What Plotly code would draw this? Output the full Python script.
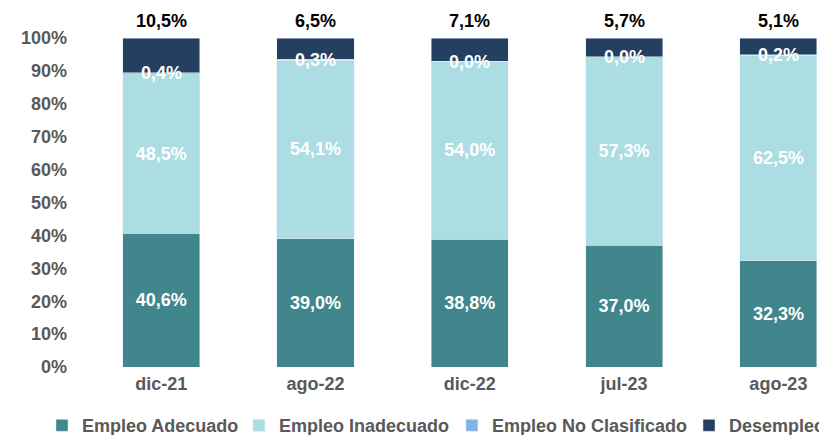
import plotly.graph_objects as go

categories = ["dic-21", "ago-22", "dic-22", "jul-23", "ago-23"]
adecuado = [40.6, 39.0, 38.8, 37.0, 32.3]
inadecuado = [48.5, 54.1, 54.0, 57.3, 62.5]
no_clasificado = [0.4, 0.3, 0.0, 0.0, 0.2]
desempleo = [10.5, 6.5, 7.1, 5.7, 5.1]
y_ticks = [0, 10, 20, 30, 40, 50, 60, 70, 80, 90, 100]

def fmt(v):
    return f"{v:.1f}%".replace(".", ",")

FONT = "Liberation Sans"
GRAY = "#595959"
LABEL_FONT = dict(color="white", size=18, family=FONT, weight="bold")

fig = go.Figure()
fig.add_trace(go.Bar(
    x=categories, y=adecuado, name="Empleo Adecuado", marker_color="#40868C",
    text=[fmt(v) for v in adecuado], textposition="inside", insidetextanchor="middle",
    textfont=LABEL_FONT, legend="legend",
))
fig.add_trace(go.Bar(
    x=categories, y=inadecuado, name="Empleo Inadecuado", marker_color="#ABDDE2",
    text=[fmt(v) for v in inadecuado], textposition="inside", insidetextanchor="middle",
    textfont=LABEL_FONT, legend="legend2",
))
fig.add_trace(go.Bar(
    x=categories, y=no_clasificado, name="Empleo No Clasificado", marker_color="#7DB3E8",
    textposition="none", legend="legend3",
))
fig.add_trace(go.Bar(
    x=categories, y=desempleo, name="Desempleo", marker_color="#243F60",
    textposition="none", legend="legend4",
))

for c, a, i, n, d in zip(categories, adecuado, inadecuado, no_clasificado, desempleo):
    fig.add_annotation(x=c, y=a + i + n / 2, text=fmt(n), showarrow=False, font=LABEL_FONT)
    fig.add_annotation(x=c, y=100, text=fmt(d), showarrow=False, yanchor="bottom", yshift=5,
                       font=dict(color="black", size=18, family=FONT, weight="bold"))

def leg(x):
    return dict(orientation="h", xref="container", yref="container",
                x=x, xanchor="left", y=0.022, yanchor="middle",
                font=dict(size=18, color=GRAY, family=FONT, weight="bold"),
                itemwidth=30, bgcolor="rgba(0,0,0,0)")

fig.update_layout(
    width=819, height=427,
    barmode="stack", barnorm="percent", bargap=0.5,
    plot_bgcolor="white", paper_bgcolor="white",
    margin=dict(l=76, r=0, t=30, b=68, autoexpand=False),
    font=dict(family=FONT, size=18, color=GRAY, weight="bold"),
    xaxis=dict(range=[-0.5, 4.315], showgrid=False, showline=False, ticks="", automargin=False,
               ticklabelstandoff=4,
               tickfont=dict(size=18, color=GRAY, family=FONT, weight="bold")),
    yaxis=dict(range=[0, 100], tickvals=y_ticks, ticktext=[f"{t}%" for t in y_ticks],
               showgrid=False, zeroline=False, showline=False, ticks="", automargin=False,
               ticklabelstandoff=16,
               tickfont=dict(size=18, color=GRAY, family=FONT, weight="bold")),
    legend=leg(0.0415),
    legend2=leg(0.282),
    legend3=leg(0.542),
    legend4=leg(0.8315),
    showlegend=True,
)

fig.write_html("out.html")
